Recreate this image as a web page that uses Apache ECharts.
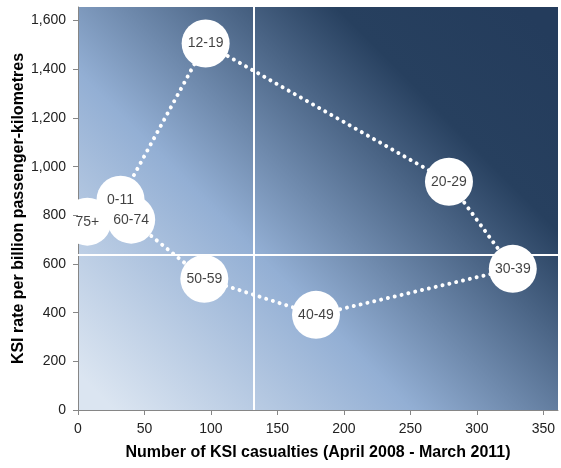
<!DOCTYPE html>
<html>
<head>
<meta charset="utf-8">
<script src="https://cdn.jsdelivr.net/npm/echarts@6/dist/echarts.min.js"></script>
<style>html,body{margin:0;padding:0;background:#fff}#c{width:561px;height:468px}</style>
</head>
<body>
<div id="c"></div>
<script>
// Data (age groups in order of the connecting line)
const ageGroups = ['0-11', '12-19', '20-29', '30-39', '40-49', '50-59', '60-74', '75+'];
const casualties = [32, 96, 279, 327, 179, 95, 40, 7];
const ksiRate = [864, 1506, 938, 580, 391, 539, 782, 774];
const averageCasualties = 132;
const averageRate = 638;
const xTicks = [0, 50, 100, 150, 200, 250, 300, 350];
const yTicks = [0, 200, 400, 600, 800, 1000, 1200, 1400, 1600];
const xAxisTitle = 'Number of KSI casualties (April 2008 - March 2011)';
const yAxisTitle = 'KSI rate per billion passenger-kilometres';

const chart = echarts.init(document.getElementById('c'));
const points = ageGroups.map((g, i) => [casualties[i], ksiRate[i]]);
const labelled = ageGroups.map((g, i) => ({ value: [casualties[i], ksiRate[i]], name: g }));
const fontName = '"Liberation Sans", Arial, sans-serif';

chart.setOption({
  animation: false,
  grid: {
    left: 78, right: 3, top: 7, bottom: 58,
    outerBoundsMode: 'none',
    containLabel: false,
    show: true, borderWidth: 0,
    backgroundColor: new echarts.graphic.LinearGradient(0.075, 1, 0.925, 0, [
      { offset: 0, color: '#dbe5f1' },
      { offset: 0.37, color: '#93afd4' },
      { offset: 0.77, color: '#27405f' },
      { offset: 1, color: '#243c5c' }
    ])
  },
  xAxis: {
    type: 'value', min: 0, max: 361, interval: 50,
    splitLine: { show: false },
    axisLine: { show: true, lineStyle: { color: '#868686', width: 1 } },
    axisTick: { show: true, length: 5, lineStyle: { color: '#868686' },
      customValues: xTicks },
    axisLabel: { color: '#222', fontSize: 14, fontFamily: fontName, margin: 12,
      customValues: xTicks },
    name: xAxisTitle, nameLocation: 'middle', nameGap: 35, nameMoveOverlap: false,
    nameTextStyle: { fontSize: 16, fontWeight: 'bold', color: '#000', fontFamily: fontName }
  },
  yAxis: {
    type: 'value', min: 0, max: 1656, interval: 200,
    splitLine: { show: false },
    axisLine: { show: true, lineStyle: { color: '#868686', width: 1 } },
    axisTick: { show: true, length: 5, lineStyle: { color: '#868686' },
      customValues: yTicks },
    axisLabel: { color: '#222', fontSize: 14, fontFamily: fontName, margin: 12,
      customValues: yTicks,
      formatter: v => v.toLocaleString('en-US') },
    name: yAxisTitle, nameLocation: 'middle', nameGap: 51, nameMoveOverlap: false,
    nameTextStyle: { fontSize: 16, fontWeight: 'bold', color: '#000', fontFamily: fontName }
  },
  series: [
    {
      type: 'line',
      data: points,
      symbol: 'none',
      lineStyle: { color: '#ffffff', width: 4, type: [0.01, 7], cap: 'round' },
      z: 2,
      markLine: {
        silent: true, symbol: 'none', animation: false,
        label: { show: false },
        lineStyle: { color: '#ffffff', width: 2, type: 'solid' },
        data: [{ xAxis: averageCasualties }, { yAxis: averageRate }],
        z: 1
      }
    },
    {
      type: 'custom',
      data: points,
      clip: true,
      z: 3,
      encode: { x: 0, y: 1 },
      renderItem: function (params, api) {
        const p = api.coord([api.value(0), api.value(1)]);
        return {
          type: 'circle',
          shape: { cx: p[0], cy: p[1], r: 24 },
          style: { fill: '#ffffff' }
        };
      }
    },
    {
      type: 'scatter',
      data: labelled,
      symbolSize: 1,
      itemStyle: { color: 'rgba(255,255,255,0)' },
      z: 4,
      label: { show: true, position: 'inside', formatter: p => p.name,
        color: '#111', fontSize: 14, fontFamily: fontName }
    }
  ]
});
</script>
</body>
</html>
